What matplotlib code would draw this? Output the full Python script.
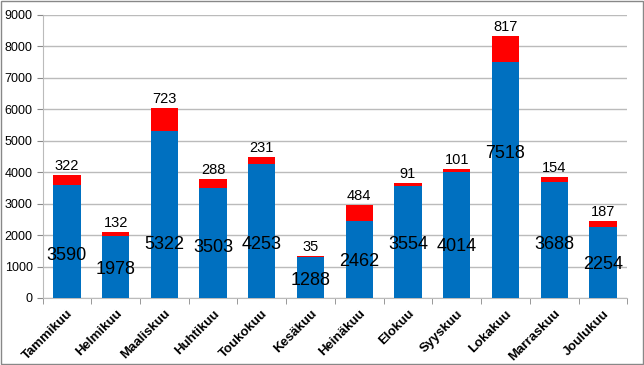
import matplotlib.pyplot as plt
import numpy as np
from matplotlib.patches import Rectangle

months = ['Tammikuu', 'Helmikuu', 'Maaliskuu', 'Huhtikuu', 'Toukokuu', 'Kesäkuu',
          'Heinäkuu', 'Elokuu', 'Syyskuu', 'Lokakuu', 'Marraskuu', 'Joulukuu']
blue_vals = [3590, 1978, 5322, 3503, 4253, 1288, 2462, 3554, 4014, 7518, 3688, 2254]
red_vals = [322, 132, 723, 288, 231, 35, 484, 91, 101, 817, 154, 187]
# where the blue labels sit in the original (data units)
blue_label_y = [1340, 890, 1690, 1590, 1690, 570, 1150, 1690, 1650, 4610, 1690, 1050]

plt.rcParams['font.family'] = ['Liberation Sans', 'DejaVu Sans']

fig = plt.figure(figsize=(6.44, 3.65), dpi=100)
ax = fig.add_axes([0.066, 0.1836, 0.908, 0.7754])

x = np.arange(len(months))
ax.bar(x, blue_vals, width=0.56, color='#0070C0', zorder=3)
ax.bar(x, red_vals, width=0.56, bottom=blue_vals, color='#FF0000', zorder=3)

for i in x:
    ax.text(i, blue_label_y[i], str(blue_vals[i]), ha='center', va='center',
            fontsize=13, zorder=4)
    ax.text(i, blue_vals[i] + red_vals[i] + 60, str(red_vals[i]), ha='center',
            va='bottom', fontsize=10.5, zorder=4)

ax.set_xlim(-0.5, len(months) - 0.5)
ax.set_ylim(0, 9000)
ax.set_yticks(range(0, 9001, 1000))
ax.tick_params(axis='y', labelsize=9, length=4, color='#888888', pad=3)
ax.yaxis.grid(True, color='#BBBBBB', linewidth=1, zorder=0)

ax.set_xticks(x)
ax.set_xticklabels(months, rotation=45, ha='right', rotation_mode='anchor',
                   fontsize=9.5, fontweight='bold')
ax.set_xticks(np.arange(-0.5, len(months)), minor=True)
ax.tick_params(axis='x', which='major', length=0, pad=7)
ax.tick_params(axis='x', which='minor', length=4, color='#888888')

for s in ['top', 'right']:
    ax.spines[s].set_visible(False)
ax.spines['left'].set_color('#BBBBBB')
ax.spines['bottom'].set_color('#BBBBBB')

fig.patches.append(Rectangle((0.002, 0.003), 0.996, 0.994, transform=fig.transFigure,
                             fill=False, edgecolor='#888888', linewidth=1))

fig.savefig('out.png', dpi=100)
